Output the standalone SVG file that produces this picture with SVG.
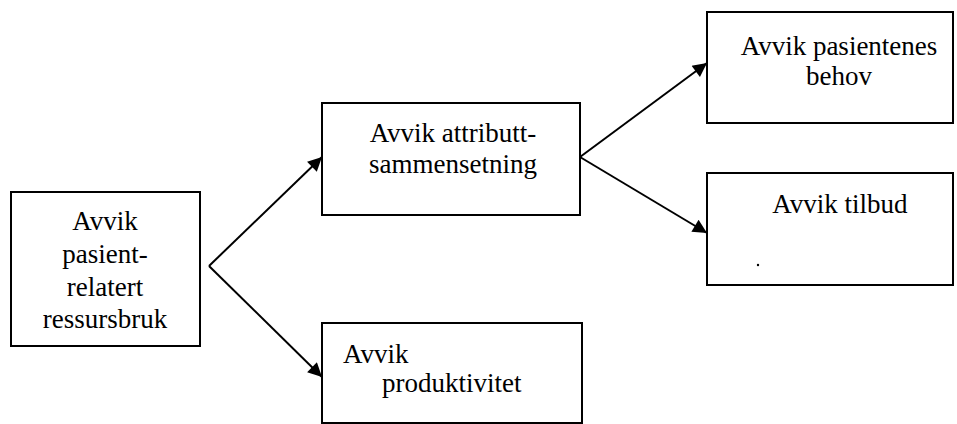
<svg xmlns="http://www.w3.org/2000/svg" width="957" height="424" viewBox="0 0 957 424">
  <style>
    .box { fill: #fff; stroke: #000; stroke-width: 2; }
    .lbl { font-family: "Liberation Serif", "Times New Roman", serif; font-size: 27px; fill: #000; }
    .mid { text-anchor: middle; }
    .edge { fill: none; stroke: #000; stroke-width: 2; marker-end: url(#arrow); }
  </style>
  <defs>
    <marker id="arrow" viewBox="0 0 10 10" refX="10" refY="5" markerWidth="8.5" markerHeight="7" markerUnits="strokeWidth" orient="auto">
      <path d="M0,0 L10,5 L0,10 z" fill="#000"/>
    </marker>
  </defs>
  <rect width="957" height="424" fill="#fff"/>

  <g id="connectors">
    <path class="edge" d="M209,266 L322,157"/>
    <path class="edge" d="M209,266 L322,377"/>
    <path class="edge" d="M580,157 L707,63"/>
    <path class="edge" d="M580,157 L707,233"/>
  </g>

  <g id="node-ressursbruk">
    <rect class="box" x="11" y="192" width="189" height="154"/>
    <text class="lbl mid" x="105" y="230">Avvik</text>
    <text class="lbl mid" x="105" y="263">pasient-</text>
    <text class="lbl mid" x="105" y="296">relatert</text>
    <text class="lbl mid" x="105" y="328">ressursbruk</text>
  </g>

  <g id="node-attributt">
    <rect class="box" x="322" y="103" width="258" height="112"/>
    <text class="lbl mid" x="453" y="142">Avvik attributt-</text>
    <text class="lbl mid" x="453" y="173">sammensetning</text>
  </g>

  <g id="node-produktivitet">
    <rect class="box" x="322" y="323" width="260" height="100"/>
    <text class="lbl" x="343" y="363">Avvik</text>
    <text class="lbl" x="382" y="392">produktivitet</text>
  </g>

  <g id="node-behov">
    <rect class="box" x="707" y="12" width="246" height="111"/>
    <text class="lbl mid" x="839" y="55">Avvik pasientenes</text>
    <text class="lbl mid" x="839" y="85">behov</text>
  </g>

  <g id="node-tilbud">
    <rect class="box" x="707" y="173" width="246" height="112"/>
    <text class="lbl mid" x="840" y="213">Avvik tilbud</text>
    <circle cx="758" cy="265" r="1.2" fill="#000"/>
  </g>
</svg>
